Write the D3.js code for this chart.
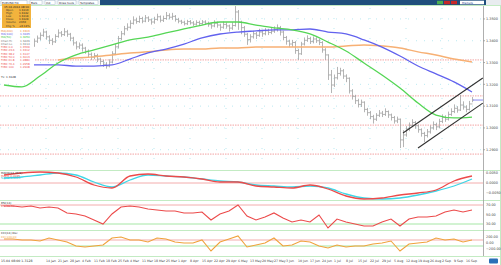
<!DOCTYPE html>
<html>
<head>
<meta charset="utf-8">
<script src="https://cdnjs.cloudflare.com/ajax/libs/d3/7.8.5/d3.min.js"></script>
<style>
    html, body { margin: 0; padding: 0; background: #fff; }
    svg { display: block; font-family: "DejaVu Sans", Arial, sans-serif; }
</style>
</head>
<body>
<div id="chart"></div>
<script>
// PRICE BARS (one per period, open = previous close)
const firstOpen = 1.3388;
const closes = [
    1.3395, 1.3410, 1.3388, 1.3372, 1.3385, 1.3401, 1.3392, 1.3378, 1.3366, 1.3380,
    1.3398, 1.3412, 1.3425, 1.3440, 1.3418, 1.3402, 1.3395, 1.3420, 1.3436, 1.3428,
    1.3441, 1.3430, 1.3412, 1.3390, 1.3372, 1.3380, 1.3366, 1.3352, 1.3338, 1.3325,
    1.3332, 1.3316, 1.3305, 1.3292, 1.3284, 1.3302, 1.3340, 1.3372, 1.3410, 1.3432,
    1.3455, 1.3462, 1.3480, 1.3495, 1.3488, 1.3502, 1.3490, 1.3505, 1.3496, 1.3486,
    1.3498, 1.3510, 1.3494, 1.3502, 1.3515, 1.3508, 1.3512, 1.3498, 1.3490, 1.3485,
    1.3478, 1.3488, 1.3482, 1.3476, 1.3484, 1.3479, 1.3486, 1.3480, 1.3474, 1.3468,
    1.3480, 1.3472, 1.3462, 1.3475, 1.3468, 1.3458, 1.3470, 1.3532, 1.3486, 1.3460,
    1.3430, 1.3405, 1.3418, 1.3432, 1.3425, 1.3440, 1.3432, 1.3446, 1.3438, 1.3444,
    1.3452, 1.3460, 1.3440, 1.3415, 1.3398, 1.3385, 1.3392, 1.3355, 1.3340, 1.3385,
    1.3402, 1.3410, 1.3396, 1.3408, 1.3400, 1.3392, 1.3358, 1.3335, 1.3243, 1.3197,
    1.3230, 1.3250, 1.3262, 1.3238, 1.3228, 1.3170, 1.3145, 1.3125, 1.3108, 1.3118,
    1.3085, 1.3070, 1.3052, 1.3040, 1.3058, 1.3068, 1.3062, 1.3075, 1.3060, 1.3048,
    1.3032, 1.3040, 1.2945, 1.2968, 1.2995, 1.3012, 1.3025, 1.3010, 1.2992, 1.2975,
    1.2965, 1.2982, 1.3000, 1.3015, 1.3005, 1.3030, 1.3048, 1.3040, 1.3062, 1.3075,
    1.3090, 1.3082, 1.3105, 1.3096, 1.3085, 1.3110, 1.3128
];
const highs = [
    1.3412, 1.3425, 1.3418, 1.3396, 1.3398, 1.3414, 1.3410, 1.3400, 1.3386, 1.3392,
    1.3410, 1.3424, 1.3438, 1.3455, 1.3446, 1.3425, 1.3412, 1.3430, 1.3452, 1.3445,
    1.3458, 1.3450, 1.3436, 1.3418, 1.3398, 1.3392, 1.3388, 1.3372, 1.3360, 1.3346,
    1.3344, 1.3340, 1.3322, 1.3312, 1.3302, 1.3315, 1.3352, 1.3386, 1.3422, 1.3445,
    1.3468, 1.3480, 1.3494, 1.3512, 1.3506, 1.3515, 1.3510, 1.3518, 1.3512, 1.3502,
    1.3510, 1.3524, 1.3516, 1.3515, 1.3532, 1.3526, 1.3528, 1.3518, 1.3505, 1.3496,
    1.3492, 1.3496, 1.3495, 1.3490, 1.3494, 1.3492, 1.3495, 1.3494, 1.3488, 1.3482,
    1.3494, 1.3488, 1.3478, 1.3488, 1.3484, 1.3474, 1.3485, 1.3569, 1.3541, 1.3492,
    1.3468, 1.3436, 1.3430, 1.3446, 1.3440, 1.3455, 1.3450, 1.3458, 1.3455, 1.3460,
    1.3466, 1.3475, 1.3468, 1.3446, 1.3422, 1.3405, 1.3404, 1.3398, 1.3362, 1.3395,
    1.3415, 1.3425, 1.3418, 1.3420, 1.3416, 1.3408, 1.3398, 1.3366, 1.3338, 1.3266,
    1.3245, 1.3280, 1.3276, 1.3270, 1.3246, 1.3232, 1.3178, 1.3152, 1.3134, 1.3130,
    1.3122, 1.3092, 1.3078, 1.3060, 1.3068, 1.3082, 1.3078, 1.3090, 1.3080, 1.3066,
    1.3055, 1.3052, 1.3043, 1.2990, 1.3008, 1.3025, 1.3040, 1.3032, 1.3016, 1.2998,
    1.2982, 1.2995, 1.3012, 1.3030, 1.3024, 1.3042, 1.3062, 1.3058, 1.3075, 1.3090,
    1.3108, 1.3100, 1.3151, 1.3122, 1.3104, 1.3124, 1.3142
];
const lows = [
    1.3375, 1.3386, 1.3372, 1.3360, 1.3364, 1.3378, 1.3380, 1.3366, 1.3346, 1.3355,
    1.3372, 1.3390, 1.3402, 1.3418, 1.3405, 1.3385, 1.3380, 1.3390, 1.3414, 1.3418,
    1.3422, 1.3418, 1.3398, 1.3378, 1.3360, 1.3362, 1.3350, 1.3340, 1.3322, 1.3312,
    1.3315, 1.3302, 1.3290, 1.3280, 1.3272, 1.3278, 1.3296, 1.3334, 1.3365, 1.3402,
    1.3425, 1.3446, 1.3455, 1.3474, 1.3478, 1.3482, 1.3480, 1.3485, 1.3486, 1.3474,
    1.3478, 1.3492, 1.3484, 1.3486, 1.3496, 1.3498, 1.3496, 1.3488, 1.3480, 1.3476,
    1.3470, 1.3472, 1.3474, 1.3468, 1.3470, 1.3472, 1.3474, 1.3472, 1.3464, 1.3455,
    1.3462, 1.3460, 1.3446, 1.3455, 1.3456, 1.3442, 1.3450, 1.3465, 1.3450, 1.3430,
    1.3418, 1.3381, 1.3392, 1.3410, 1.3408, 1.3418, 1.3418, 1.3425, 1.3426, 1.3430,
    1.3436, 1.3442, 1.3424, 1.3402, 1.3382, 1.3370, 1.3372, 1.3340, 1.3312, 1.3335,
    1.3378, 1.3395, 1.3385, 1.3388, 1.3390, 1.3380, 1.3345, 1.3312, 1.3220, 1.3160,
    1.3188, 1.3222, 1.3240, 1.3225, 1.3210, 1.3158, 1.3130, 1.3110, 1.3094, 1.3096,
    1.3072, 1.3056, 1.3040, 1.3020, 1.3032, 1.3050, 1.3050, 1.3055, 1.3046, 1.3034,
    1.3020, 1.3022, 1.2908, 1.2912, 1.2960, 1.2985, 1.3004, 1.2996, 1.2978, 1.2960,
    1.2935, 1.2956, 1.2974, 1.2992, 1.2990, 1.2998, 1.3022, 1.3028, 1.3034, 1.3055,
    1.3068, 1.3070, 1.3078, 1.3084, 1.3072, 1.3080, 1.3118
];

// MOVING AVERAGES, one value every maStep bars
const maStep = 6;
const ma50 = [1.3197, 1.3188, 1.3238, 1.3298, 1.3335, 1.3358, 1.3381, 1.3404, 1.3417, 1.3436,
    1.3454, 1.3472, 1.3486, 1.3486, 1.3472, 1.3459, 1.3450, 1.3431, 1.3394, 1.3353,
    1.3298, 1.3243, 1.3183, 1.3114, 1.3059, 1.3046, 1.3050];
const ma100 = [1.3289, 1.3289, 1.3289, 1.3289, 1.3284, 1.3284, 1.3289, 1.3316, 1.3344, 1.3362,
    1.3385, 1.3413, 1.3431, 1.3440, 1.3445, 1.3450, 1.3450, 1.3454, 1.3440, 1.3431,
    1.3404, 1.3371, 1.3330, 1.3284, 1.3248, 1.3211, 1.3165];
const ma200Start = 18;
const ma200 = [1.3312, 1.3321, 1.3326, 1.3335, 1.3344, 1.3349, 1.3358, 1.3362, 1.3362, 1.3367,
    1.3367, 1.3371, 1.3371, 1.3371, 1.3371, 1.3371, 1.3376, 1.3381, 1.3376, 1.3367,
    1.3349, 1.3335, 1.3316, 1.3303];

// LEVELS AND CHANNEL
const levels = [1.3312, 1.3147, 1.3013, 1.2880];
const channelUpper = [[133, 1.2977], [159.6, 1.3229]];
const channelLower = [[138, 1.2908], [159.6, 1.3114]];
const priceTicks = [1.29, 1.30, 1.31, 1.32, 1.33, 1.34, 1.35];

// MACD (every 6 bars)
const macdMain = [0.0040, 0.0050, 0.0055, 0.0050, 0.0030, -0.0010, -0.0025, 0.0035, 0.0045, 0.0035,
    0.0030, 0.0020, 0.0005, 0.0005, -0.0015, -0.0020, -0.0025, -0.0010, -0.0030, -0.0065,
    -0.0080, -0.0075, -0.0060, -0.0050, -0.0035, 0.0010, 0.0035];
const macdSignal = [0.0025, 0.0030, 0.0040, 0.0050, 0.0040, 0.0005, -0.0020, 0.0015, 0.0040, 0.0035,
    0.0030, 0.0020, 0.0010, 0.0005, -0.0010, -0.0015, -0.0020, -0.0015, -0.0025, -0.0055,
    -0.0075, -0.0080, -0.0075, -0.0060, -0.0040, -0.0015, 0.0020];
const macdTicks = [0.005, 0, -0.005];

// RSI and CCI (every 3 bars)
const oscStep = 3;
const rsi = [67.9, 67.9, 65.8, 67.9, 63.7, 65.8, 63.7, 53.2, 51.1, 46.8,
    38.4, 30.0, 51.1, 65.8, 67.9, 65.8, 61.6, 59.5, 57.4, 57.4,
    53.2, 53.2, 55.3, 38.4, 51.1, 57.4, 70.0, 46.8, 38.4, 44.7,
    53.2, 42.6, 34.2, 38.4, 34.2, 48.9, 21.6, 40.5, 34.2, 30.0,
    25.8, 25.8, 34.2, 40.5, 25.8, 40.5, 44.7, 44.7, 46.8, 55.3,
    59.5, 55.3, 59.5];
const rsiTicks = [70, 50, 30];
const cci = [133, 133, 100, 100, 67, 167, 100, 33, -100, -133,
    -100, -67, 167, 200, 100, 100, 33, 167, 133, 33,
    0, 0, 100, -267, 33, 133, 233, -133, -67, 0,
    167, -100, -67, 67, 33, -100, -167, -67, -133, -100,
    -100, -33, 0, 67, -267, -33, 0, 33, 167, 100,
    133, 33, 100];
const cciTicks = [200, 0, -200];

// DATE LABELS (every 4 bars from bar 14)
const dateLabels = ["14 Jan", "21 Jan", "28 Jan", "4 Feb", "11 Feb", "18 Feb", "25 Feb", "4 Mar", "11 Mar",
    "18 Mar", "25 Mar", "1 Apr", "8 Apr", "15 Apr", "22 Apr", "29 Apr", "6 May", "13 May",
    "20 May", "27 May", "3 Jun", "10 Jun", "17 Jun", "24 Jun", "1 Jul", "8 Jul", "15 Jul",
    "22 Jul", "29 Jul", "5 Aug", "12 Aug", "19 Aug", "26 Aug", "2 Sep", "9 Sep", "16 Sep"];

console.log("init", closes.length, highs.length, lows.length, rsi.length, cci.length);

let width = 501,
    height = 265;

let svg = d3.select('#chart').append('svg')
    .attr('width', width)
    .attr('height', height);

svg.append('rect').attr('width', width).attr('height', height).attr('fill', '#ffffff');

let x = d3.scaleLinear().domain([0, 159.6667]).range([4, 483]);
let yPrice = d3.scaleLinear().domain([1.2807, 1.3564]).range([170, 5]);
let yMacd = d3.scaleLinear().domain([-0.0085, 0.006]).range([200, 171]);
let yRsi = d3.scaleLinear().domain([20, 80]).range([228.75, 200.25]);
let yCci = d3.scaleLinear().domain([-400, 400]).range([255, 231]);

let fmt4 = d3.format(".4f");

// GRID
let grid = svg.append('g');
grid.selectAll('.hgrid').data(priceTicks).enter().append('line')
    .attr('x1', 0).attr('x2', x(159.6667))
    .attr('y1', function (d) { return yPrice(d); })
    .attr('y2', function (d) { return yPrice(d); })
    .attr('stroke', '#a9e3ee').attr('stroke-width', 0.8)
    .attr('stroke-dasharray', '1,7');
grid.selectAll('.vgrid').data(dateLabels.filter(function (d, k) { return k % 3 === 0; })).enter().append('line')
    .attr('x1', function (d, k) { return x(14 + 12 * k); })
    .attr('x2', function (d, k) { return x(14 + 12 * k); })
    .attr('y1', 8).attr('y2', 168)
    .attr('stroke', '#a9e3ee').attr('stroke-width', 0.8)
    .attr('stroke-dasharray', '1,9');

// LEVELS
svg.append('g').selectAll('line').data(levels).enter().append('line')
    .attr('x1', 0).attr('x2', x(159.6667))
    .attr('y1', function (d) { return yPrice(d); })
    .attr('y2', function (d) { return yPrice(d); })
    .attr('stroke', '#f2a3a3').attr('stroke-width', 1)
    .attr('stroke-dasharray', '1.5,1');

// BARS
let bars = closes.map(function (c, i) {
    return { i: i, o: i === 0 ? firstOpen : closes[i - 1], h: highs[i], l: lows[i], c: c };
});

svg.append('g').selectAll('path').data(bars).enter().append('path')
    .attr('d', function (d) {
        let cx = Math.round(x(d.i)) + 0.5;
        return 'M' + cx + ',' + yPrice(d.h) + 'V' + yPrice(d.l) +
            'M' + (cx - 1.5) + ',' + yPrice(d.o) + 'H' + cx +
            'M' + cx + ',' + yPrice(d.c) + 'H' + (cx + 1.5);
    })
    .attr('fill', 'none')
    .attr('stroke', '#a2a2a2')
    .attr('stroke-width', 0.8);

// MOVING AVERAGES
function maLine(values, start) {
    return d3.line()
        .x(function (d, k) { return x(start + k * maStep); })
        .y(function (d) { return yPrice(d); })
        .curve(d3.curveMonotoneX)(values);
}

svg.append('path').attr('d', maLine(ma200, ma200Start))
    .attr('fill', 'none').attr('stroke', '#f7b074').attr('stroke-width', 1.5);
svg.append('path').attr('d', maLine(ma100, 0))
    .attr('fill', 'none').attr('stroke', '#6262ee').attr('stroke-width', 1.3);
svg.append('path').attr('d', maLine(ma50, 0))
    .attr('fill', 'none').attr('stroke', '#55d655').attr('stroke-width', 1.3);

// CHANNEL
[channelUpper, channelLower].forEach(function (c) {
    svg.append('line')
        .attr('x1', x(c[0][0])).attr('y1', yPrice(c[0][1]))
        .attr('x2', x(c[1][0])).attr('y2', yPrice(c[1][1]))
        .attr('stroke', '#303030').attr('stroke-width', 1.1);
});

// last price marker
let last = closes[closes.length - 1];
svg.append('line')
    .attr('x1', x(closes.length - 1) + 1).attr('x2', x(159.6667))
    .attr('y1', yPrice(last)).attr('y2', yPrice(last))
    .attr('stroke', '#7a7af0').attr('stroke-width', 0.9);

// INDICATOR PANELS
function oscLine(values, step, scale, curve) {
    return d3.line()
        .x(function (d, k) { return x(k * step); })
        .y(function (d) { return scale(d); })
        .curve(curve)(values);
}

function hLevel(y, color) {
    svg.append('line')
        .attr('x1', 0).attr('x2', x(159.6667))
        .attr('y1', y).attr('y2', y)
        .attr('stroke', color).attr('stroke-width', 0.9);
}

hLevel(yMacd(0), '#f2a3a3');
hLevel(yRsi(70), '#f2a3a3');
hLevel(yRsi(30), '#9be39b');
hLevel(yCci(100), '#f2a3a3');
hLevel(yCci(-100), '#9be39b');

svg.append('path').attr('d', oscLine(macdSignal, maStep, yMacd, d3.curveMonotoneX))
    .attr('fill', 'none').attr('stroke', '#3fd6e6').attr('stroke-width', 1.3);
svg.append('path').attr('d', oscLine(macdMain, maStep, yMacd, d3.curveMonotoneX))
    .attr('fill', 'none').attr('stroke', '#ec4a4a').attr('stroke-width', 1.3);
svg.append('path').attr('d', oscLine(rsi, oscStep, yRsi, d3.curveLinear))
    .attr('fill', 'none').attr('stroke', '#ec4a4a').attr('stroke-width', 1.1);
svg.append('path').attr('d', oscLine(cci, oscStep, yCci, d3.curveLinear))
    .attr('fill', 'none').attr('stroke', '#f0a23c').attr('stroke-width', 1.1);

// SEPARATORS
[5.5, 170.5, 200.5, 230.5, 256.5].forEach(function (y) {
    svg.append('line').attr('x1', 0).attr('x2', width).attr('y1', y).attr('y2', y)
        .attr('stroke', '#c3ebc3').attr('stroke-width', 1);
});
svg.append('line').attr('x1', 483.5).attr('x2', 483.5).attr('y1', 6).attr('y2', 256)
    .attr('stroke', '#9a9a9a').attr('stroke-width', 0.8);
svg.append('line').attr('x1', 500.5).attr('x2', 500.5).attr('y1', 6).attr('y2', 265)
    .attr('stroke', '#c3ebc3').attr('stroke-width', 1);

// AXIS LABELS (right)
function rightLabels(ticks, scale, f) {
    svg.append('g').selectAll('text').data(ticks).enter().append('text')
        .attr('x', 486).attr('y', function (d) { return scale(d) + 1.2; })
        .attr('font-size', 3.4).attr('fill', '#444')
        .text(f);
}
rightLabels(priceTicks, yPrice, fmt4);
rightLabels(macdTicks, yMacd, d3.format(".4f"));
rightLabels(rsiTicks, yRsi, d3.format(".2f"));
rightLabels(cciTicks, yCci, d3.format(".2f"));

svg.append('g').selectAll('line').data(priceTicks).enter().append('line')
    .attr('x1', 483.5).attr('x2', 485)
    .attr('y1', function (d) { return yPrice(d); })
    .attr('y2', function (d) { return yPrice(d); })
    .attr('stroke', '#777').attr('stroke-width', 0.6);

// DATE AXIS
svg.append('g').selectAll('text').data(dateLabels).enter().append('text')
    .attr('x', function (d, k) { return x(14 + 4 * k); })
    .attr('y', 261.5)
    .attr('font-size', 3.2).attr('fill', '#444')
    .text(function (d) { return d; });
svg.append('text').attr('x', 1).attr('y', 261.5).attr('font-size', 3.2).attr('fill', '#333')
    .text('15.04 08:00  1.3128');

// TOOLBAR
svg.append('rect').attr('x', 0).attr('y', 0).attr('width', width).attr('height', 5).attr('fill', '#1f4e7c');
svg.append('rect').attr('x', 0).attr('y', 0).attr('width', 100).attr('height', 5).attr('fill', '#eef2f6');
[[1, 26, 'EURUSD  H4'], [30, 12, 'Bars'], [45, 10, 'Ind'], [58, 18, 'Draw tools'], [79, 19, 'Templates']].forEach(function (b) {
    svg.append('rect').attr('x', b[0]).attr('y', 0.7).attr('width', b[1]).attr('height', 3.6)
        .attr('fill', '#ffffff').attr('stroke', '#9fb3c8').attr('stroke-width', 0.4);
    svg.append('text').attr('x', b[0] + 1).attr('y', 3.6).attr('font-size', 2.8).attr('fill', '#223')
        .text(b[2]);
});
[['#4caf50', 437], ['#c62828', 444], ['#c62828', 451]].forEach(function (b) {
    svg.append('rect').attr('x', b[1]).attr('y', 0.8).attr('width', 6).attr('height', 3.4).attr('fill', b[0]);
});
svg.append('rect').attr('x', 460).attr('y', 0.7).attr('width', 24).attr('height', 3.6).attr('fill', '#ffffff');
svg.append('text').attr('x', 462).attr('y', 3.6).attr('font-size', 2.8).attr('fill', '#1f3f8f').text('Markets');
svg.append('rect').attr('x', 486).attr('y', 0).attr('width', 15).attr('height', 5).attr('fill', '#e8ecef');

// LEGEND (top left)
svg.append('rect').attr('x', 0).attr('y', 29).attr('width', 34).attr('height', 51).attr('fill', '#ffffff');
svg.append('rect').attr('x', 2).attr('y', 4).attr('width', 29).attr('height', 24).attr('fill', '#f2b33d');
let lastBar = bars[bars.length - 1];
let boxRows = [
    ['Open', fmt4(lastBar.o)], ['High', fmt4(lastBar.h)], ['Low', fmt4(lastBar.l)],
    ['Close', fmt4(lastBar.c)], ['Volume', '2350'], ['Chg %', '+0.14%']
];
svg.append('text').attr('x', 4).attr('y', 7.6).attr('font-size', 2.8).attr('fill', '#222').text('15.04.2014 08:00');
boxRows.forEach(function (r, k) {
    svg.append('text').attr('x', 6).attr('y', 11 + k * 3.1).attr('font-size', 2.7).attr('fill', '#333').text(r[0]);
    svg.append('text').attr('x', 19).attr('y', 11 + k * 3.1).attr('font-size', 2.7).attr('fill', '#222').text(r[1]);
});

let legendRows = [
    ['MA(200)', fmt4(ma200[ma200.length - 1]), '#f08a3a'],
    ['MA(100)', fmt4(ma100[ma100.length - 1]), '#5a5ae6'],
    ['MA(50)', fmt4(ma50[ma50.length - 1]), '#3cc83c'],
    ['Chan Hi', fmt4(channelUpper[1][1]), '#777777'],
    ['Chan Lo', fmt4(channelLower[1][1]), '#777777'],
    ['FIBO 0.0', '1.3569', '#ee5a5a'],
    ['FIBO 23.6', fmt4(levels[0]), '#ee5a5a'],
    ['FIBO 38.2', fmt4(levels[1]), '#ee5a5a'],
    ['FIBO 50.0', fmt4(levels[2]), '#ee5a5a'],
    ['FIBO 61.8', fmt4(levels[3]), '#ee5a5a'],
    ['FIBO 76.4', '1.2958', '#ee5a5a'],
    ['FIBO 100', '1.2908', '#ee5a5a']
];
let legendY = [32, 35, 38, 42, 45, 48, 51.3, 54.6, 57.9, 61.2, 64.5, 67.8];
legendRows.forEach(function (r, k) {
    svg.append('text').attr('x', 1).attr('y', legendY[k]).attr('font-size', 2.8).attr('fill', r[2]).text(r[0]);
    svg.append('text').attr('x', 20).attr('y', legendY[k]).attr('font-size', 2.8).attr('fill', r[2]).text(r[1]);
});
svg.append('text').attr('x', 1).attr('y', 77.5).attr('font-size', 2.8).attr('fill', '#333').text('TL: ' + fmt4(last));

// panel headers
let headers = [
    [1, 173.5, 'MACD(12,26,9)', '#333'],
    [1, 176.5, 'MACD ' + fmt4(macdMain[macdMain.length - 1]), '#ec4a4a'],
    [1, 179.3, 'Signal ' + fmt4(macdSignal[macdSignal.length - 1]), '#2cc4d6'],
    [1, 204.3, 'RSI(14)', '#333'],
    [1, 207.3, 'RSI ' + rsi[rsi.length - 1].toFixed(2), '#ec4a4a'],
    [1, 234.3, 'CCI(14) Osc', '#333'],
    [1, 237.6, 'CCI ' + cci[cci.length - 1].toFixed(2), '#f0a23c']
];
headers.forEach(function (h) {
    svg.append('text').attr('x', h[0]).attr('y', h[1]).attr('font-size', 2.8).attr('fill', h[3]).text(h[2]);
});

// bottom right icon
svg.append('rect').attr('x', 489).attr('y', 258.5).attr('width', 9).attr('height', 5).attr('fill', '#2a6fb8').attr('rx', 1);
</script>
</body>
</html>
